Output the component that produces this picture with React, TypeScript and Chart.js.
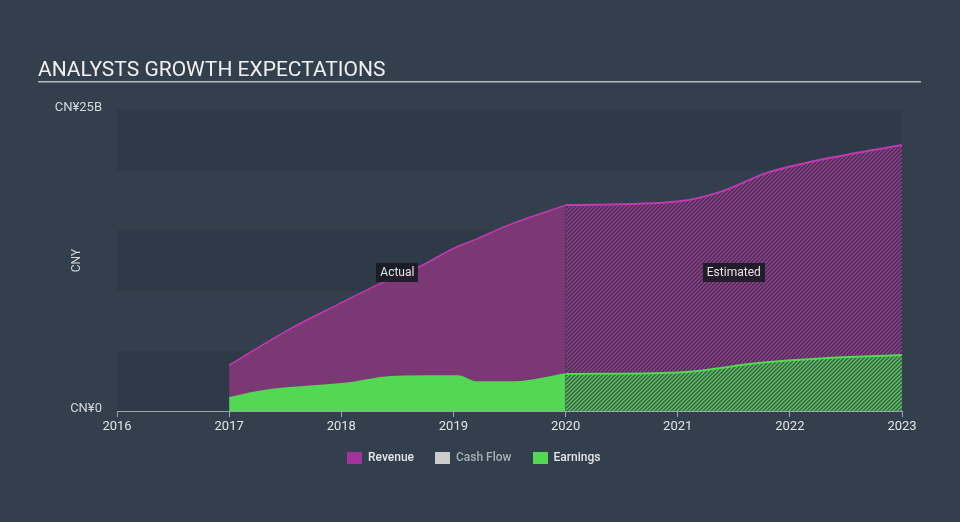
import React, { useEffect, useRef } from 'react';
import { Chart, registerables } from 'chart.js';

Chart.register(...registerables);

// ---- Data (values in CNY billions, x in fractional years) ----
const revenueActualYears = [2017, 2017.52, 2017.96, 2018.35, 2018.7, 2019.0, 2019.21, 2019.48, 2020.0];
const revenueActual = [3.8, 6.7, 8.8, 10.6, 12.0, 13.5, 14.3, 15.4, 17.1];
const revenueEstYears = [2020, 2021, 2021.38, 2021.8, 2022.19, 2023];
const revenueEst = [17.1, 17.4, 18.2, 19.8, 20.7, 22.1];
const earningsActualYears = [2017, 2017.25, 2017.63, 2018.05, 2018.44, 2018.75, 2019.04, 2019.21, 2019.54, 2020];
const earningsActual = [1.08, 1.6, 2.0, 2.3, 2.85, 2.9, 2.9, 2.4, 2.4, 3.07];
const earningsEstYears = [2020, 2021, 2021.74, 2022.34, 2023];
const earningsEst = [3.07, 3.2, 4.0, 4.4, 4.65];

const xTickYears = [2016, 2017, 2018, 2019, 2020, 2021, 2022, 2023];
const yMin = 0;
const yMax = 25;
const yStep = 5;
const yTickLabels: Record<number, string> = { 0: 'CN¥0', 25: 'CN¥25B' };
const legendLabels = ['Revenue', 'Cash Flow', 'Earnings'];
const legendColors = ['#a0349a', '#cccccc', '#52d852'];
const legendTextColors = ['#e6e6e6', '#a9afb5', '#e6e6e6'];
const periodLabels = ['Actual', 'Estimated'];
const periodRanges = [[2017, 2020], [2020, 2023]];
const periodLabelValue = 11.5;
const titleText = 'ANALYSTS GROWTH EXPECTATIONS';

const BG = '#333f4d';
const BAND = '#2e3a47';
const FONT = 'Roboto, "Open Sans", sans-serif';

function pts(xs: number[], ys: number[]) {
  return xs.map((x, i) => ({ x, y: ys[i] }));
}

function hatch(bg: string, fg: string, lw: number): CanvasPattern | string {
  const c = document.createElement('canvas');
  c.width = 4;
  c.height = 4;
  const g = c.getContext('2d');
  if (!g) return bg;
  g.fillStyle = bg;
  g.fillRect(0, 0, 4, 4);
  g.strokeStyle = fg;
  g.lineWidth = lw;
  g.beginPath();
  g.moveTo(0, 4);
  g.lineTo(4, 0);
  g.moveTo(-1, 1);
  g.lineTo(1, -1);
  g.moveTo(3, 5);
  g.lineTo(5, 3);
  g.stroke();
  return g.createPattern(c, 'repeat') || bg;
}

const decorPlugin = {
  id: 'decor',
  beforeDraw(chart: any) {
    const { ctx, chartArea, scales } = chart;
    ctx.save();
    ctx.fillStyle = BG;
    ctx.fillRect(0, 0, chart.width, chart.height);
    const y = scales.y;
    ctx.fillStyle = BAND;
    for (let v = yMax; v > yMin; v -= yStep * 2) {
      const top = y.getPixelForValue(v);
      const bot = y.getPixelForValue(v - yStep);
      ctx.fillRect(chartArea.left, top, chartArea.right - chartArea.left, bot - top);
    }
    // title
    ctx.fillStyle = '#f0f0f0';
    ctx.font = `21px ${FONT}`;
    ctx.textBaseline = 'alphabetic';
    ctx.textAlign = 'left';
    ctx.fillText(titleText, 38, 76);
    ctx.fillStyle = '#b5babf';
    ctx.fillRect(38, 81, 883, 1.5);
    ctx.restore();
  },
  afterDatasetsDraw(chart: any) {
    const { ctx, scales } = chart;
    ctx.save();
    ctx.font = `12px ${FONT}`;
    ctx.textAlign = 'center';
    ctx.textBaseline = 'middle';
    periodLabels.forEach((t, i) => {
      const cx = scales.x.getPixelForValue((periodRanges[i][0] + periodRanges[i][1]) / 2);
      const cy = scales.y.getPixelForValue(periodLabelValue);
      const w = ctx.measureText(t).width + 8;
      ctx.fillStyle = 'rgba(24,24,34,0.88)';
      ctx.fillRect(Math.round(cx - w / 2), Math.round(cy - 9.5), Math.round(w), 19);
      ctx.fillStyle = '#e4e4e4';
      ctx.fillText(t, cx, cy + 0.5);
    });
    ctx.restore();
  },
  afterDraw(chart: any) {
    const { ctx } = chart;
    ctx.save();
    ctx.font = `500 12px ${FONT}`;
    ctx.textBaseline = 'middle';
    ctx.textAlign = 'left';
    const boxW = 15, boxH = 12, gap = 6, spacing = 21;
    const widths = legendLabels.map((t) => boxW + gap + ctx.measureText(t).width);
    let x = 347;
    const cy = 458;
    legendLabels.forEach((t, i) => {
      ctx.fillStyle = legendColors[i];
      ctx.fillRect(Math.round(x), cy - 6, boxW, boxH);
      ctx.fillStyle = legendTextColors[i];
      ctx.fillText(t, x + boxW + gap, cy);
      x += widths[i] + spacing;
    });
    ctx.restore();
  },
};

export default function App() {
  const ref = useRef<HTMLCanvasElement | null>(null);

  useEffect(() => {
    document.body.style.margin = '0';
    document.body.style.background = BG;
    const canvas = ref.current;
    if (!canvas) return;
    const revHatch = hatch('#4a2f55', '#93408d', 1.3);
    const earnHatch = hatch('#3b5d4a', '#5cc85c', 1.3);

    const chart = new Chart(canvas, {
      type: 'line',
      data: {
        datasets: [
          {
            label: 'Earnings',
            data: pts(earningsActualYears, earningsActual),
            borderColor: '#52d852',
            backgroundColor: '#52d852',
            borderWidth: 1.5,
            fill: 'origin',
            pointRadius: 0,
            cubicInterpolationMode: 'monotone',
          },
          {
            label: 'Earnings (est.)',
            data: pts(earningsEstYears, earningsEst),
            borderColor: '#52d852',
            backgroundColor: earnHatch as any,
            borderWidth: 2,
            fill: 'origin',
            pointRadius: 0,
            cubicInterpolationMode: 'monotone',
          },
          {
            label: 'Cash Flow',
            data: [],
            borderColor: '#cccccc',
            backgroundColor: '#cccccc',
          },
          {
            label: 'Revenue',
            data: pts(revenueActualYears, revenueActual),
            borderColor: '#c03bb1',
            backgroundColor: '#7b3875',
            borderWidth: 1.5,
            fill: 'origin',
            pointRadius: 0,
            cubicInterpolationMode: 'monotone',
          },
          {
            label: 'Revenue (est.)',
            data: pts(revenueEstYears, revenueEst),
            borderColor: '#c03bb1',
            backgroundColor: revHatch as any,
            borderWidth: 2,
            fill: 'origin',
            pointRadius: 0,
            cubicInterpolationMode: 'monotone',
          },
        ],
      },
      options: {
        responsive: false,
        maintainAspectRatio: false,
        animation: false,
        layout: { padding: { left: 0, right: 58, top: 110, bottom: 0 } },
        plugins: {
          legend: { display: false },
          tooltip: { enabled: false },
          title: { display: false },
        },
        scales: {
          x: {
            type: 'linear',
            min: xTickYears[0],
            max: xTickYears[xTickYears.length - 1],
            afterBuildTicks(scale: any) {
              scale.ticks = xTickYears.map((v) => ({ value: v }));
            },
            ticks: {
              stepSize: 1,
              color: '#e2e4e6',
              font: { family: FONT, size: 13 },
              padding: 2,
              maxRotation: 0,
              callback: (v: any) => String(v),
            },
            grid: {
              display: true,
              drawOnChartArea: false,
              drawTicks: true,
              tickLength: 6,
              color: '#9ba4ad',
            },
            border: { display: true, color: '#9ba4ad', width: 1 },
            afterFit(scale: any) {
              scale.height = 111;
            },
          },
          y: {
            type: 'linear',
            min: yMin,
            max: yMax,
            ticks: {
              stepSize: yStep,
              color: '#d4d7da',
              font: { family: FONT, size: 13 },
              padding: 15,
              labelOffset: -2,
              callback: (v: any) => yTickLabels[v as number] ?? '',
            },
            grid: { display: false, drawTicks: false },
            border: { display: false },
            title: {
              display: true,
              text: 'CNY',
              color: '#d4d7da',
              font: { family: FONT, size: 12 },
              padding: { top: 70, bottom: 0 },
            },
            afterFit(scale: any) {
              scale.width = 117;
            },
          },
        },
      },
      plugins: [decorPlugin],
    });
    return () => chart.destroy();
  }, []);

  return (
    <div style={{ position: 'fixed', left: 0, top: 0, width: 960, height: 522, background: BG }}>
      <canvas ref={ref} width={960} height={522} style={{ display: 'block', width: 960, height: 522 }} />
    </div>
  );
}
